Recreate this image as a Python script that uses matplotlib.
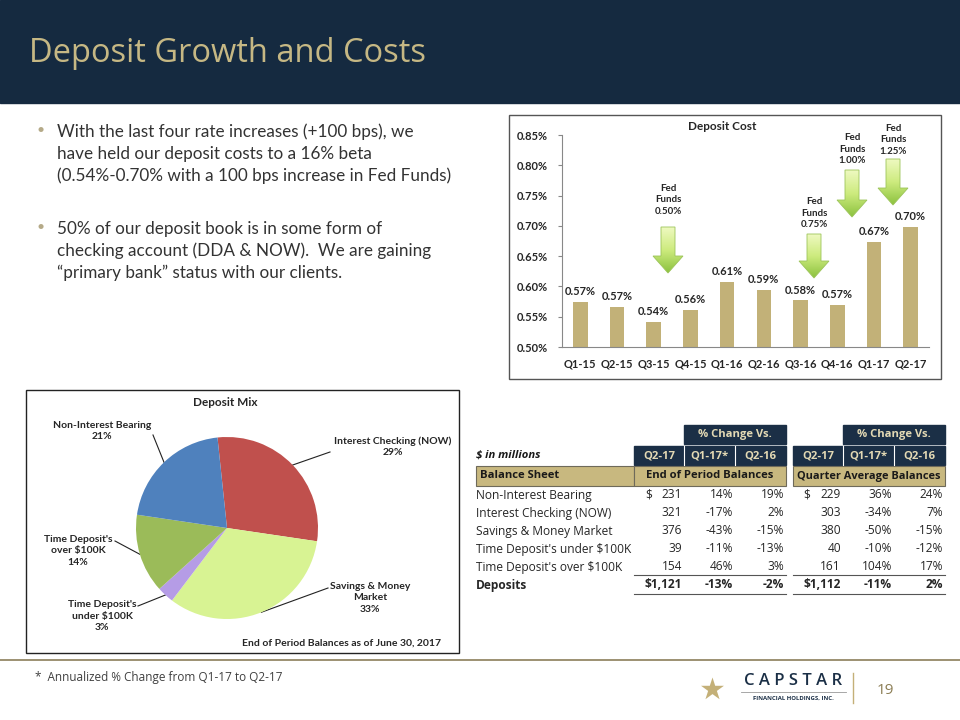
import matplotlib

matplotlib.use("Agg")
import numpy as np
import matplotlib.pyplot as plt
from matplotlib.patches import Rectangle, Polygon
from matplotlib.colors import LinearSegmentedColormap

plt.rcParams["font.family"] = ["Lato", "DejaVu Sans"]
plt.rcParams["text.parse_math"] = False

############### DATA ################
quarters = ["Q1-15", "Q2-15", "Q3-15", "Q4-15", "Q1-16",
            "Q2-16", "Q3-16", "Q4-16", "Q1-17", "Q2-17"]
deposit_cost = [0.574, 0.566, 0.542, 0.561, 0.607,
                0.594, 0.577, 0.570, 0.674, 0.698]
fed_funds = ["0.50%", "0.75%", "1.00%", "1.25%"]

mix_labels = ["Interest Checking (NOW)", "Savings & Money\nMarket",
              "Time Deposit's\nunder $100K", "Time Deposit's\nover $100K",
              "Non-Interest Bearing"]
mix_pct = [29, 33, 3, 14, 21]
mix_colors = ["#c0504d", "#d8f393", "#b59ce6", "#9bbb59", "#4f81bd"]

rows = ["Non-Interest Bearing", "Interest Checking (NOW)", "Savings & Money Market",
        "Time Deposit's under $100K", "Time Deposit's over $100K"]
eop_bal = [231, 321, 376, 39, 154]
eop_qoq = [14, -17, -43, -11, 46]
eop_yoy = [19, 2, -15, -13, 3]
avg_bal = [229, 303, 380, 40, 161]
avg_qoq = [36, -34, -50, -10, 104]
avg_yoy = [24, 7, -15, -12, 17]
eop_total = [1121, -13, -2]
avg_total = [1112, -11, 2]

bullets = [
    ["With the last four rate increases (+100 bps), we",
     "have held our deposit costs to a 16% beta",
     "(0.54%-0.70% with a 100 bps increase in Fed Funds)"],
    ["50% of our deposit book is in some form of",
     "checking account (DDA & NOW).  We are gaining",
     "\u201cprimary bank\u201d status with our clients."],
]

NAVY = "#152a40"
GOLD = "#c6b884"
BAR = "#c2b178"

fig = plt.figure(figsize=(9.6, 7.2), dpi=100)
bg = fig.add_axes([0, 0, 1, 1])
bg.set_xlim(0, 960)
bg.set_ylim(720, 0)
bg.set_autoscale_on(False)
bg.axis("off")

# header
bg.add_patch(Rectangle((0, 0), 960, 103, color=NAVY, zorder=0))
bg.text(29, 53, "Deposit Growth and Costs", color=GOLD, fontsize=23.5,
        family=["Open Sans", "DejaVu Sans"], va="center", ha="left")

# bullets
for y0, lines in zip([132, 229], bullets):
    bg.text(41, y0 - 2, "\u2022", color="#b5aa88", fontsize=10, va="center", ha="center")
    for k, line in enumerate(lines):
        bg.text(57, y0 + 22 * k, line, color="#333333", fontsize=12.3,
                va="center", ha="left")

############### BAR CHART ################
bg.add_patch(Rectangle((509, 115), 432, 264, fill=False, ec="#555555", lw=1))
bg.text(722, 126, "Deposit Cost", fontsize=8.5, fontweight="bold",
        ha="center", va="center", color="#262626")

ax = fig.add_axes([562 / 960, 1 - 347 / 720, 367 / 960, 212 / 720])
ax.patch.set_alpha(0)
x = np.arange(len(quarters))
bars = ax.bar(x, deposit_cost, width=0.4, color=BAR)
ax.set_xlim(-0.5, len(quarters) - 0.5)
ax.set_ylim(0.50, 0.85)
ax.set_yticks(np.arange(0.50, 0.851, 0.05))
ax.set_yticklabels([f"{v:.2f}%" for v in np.arange(0.50, 0.851, 0.05)])
ax.set_xticks(x)
ax.set_xticklabels(quarters)
for lbl in ax.get_xticklabels() + ax.get_yticklabels():
    lbl.set_fontweight("bold")
    lbl.set_fontsize(8)
    lbl.set_color("#262626")
ax.tick_params(axis="x", length=0, pad=8)
ax.tick_params(axis="y", length=3, pad=7, color="#888888")
for s in ["top", "right"]:
    ax.spines[s].set_visible(False)
for s in ["left", "bottom"]:
    ax.spines[s].set_color("#888888")
for xi, v in zip(x, deposit_cost):
    ax.text(xi, v + 0.008, f"{v:.2f}%", ha="center", va="bottom",
            fontsize=8, fontweight="bold", color="#262626")

# fed funds arrows (pixel layout)
arrow_cmap = LinearSegmentedColormap.from_list("g", ["#eef9c0", "#cdeb7e", "#8cc23f"])
arrows = [(668, 227, 273, 187), (814, 234, 278, 200),
          (852, 170, 217, 136), (893, 159, 205, 127)]
for (xc, ytop, ybot, ytxt), ff in zip(arrows, fed_funds):
    sw, hw, hh = 14, 30, 17
    verts = [(xc - sw / 2, ytop), (xc + sw / 2, ytop), (xc + sw / 2, ybot - hh),
             (xc + hw / 2, ybot - hh), (xc, ybot), (xc - hw / 2, ybot - hh),
             (xc - sw / 2, ybot - hh)]
    poly = Polygon(verts, closed=True, fc="none", ec="#9cc45a", lw=0.6, zorder=3)
    bg.add_patch(poly)
    grad = np.linspace(0, 1, 64).reshape(-1, 1)
    im = bg.imshow(grad, cmap=arrow_cmap, aspect="auto", origin="upper",
                   extent=(xc - hw / 2, xc + hw / 2, ybot, ytop), zorder=2)
    im.set_clip_path(poly)
    bg.text(xc, ytxt + 13, f"Fed\nFunds\n{ff}", ha="center", va="center", fontsize=7,
            fontweight="bold", color="#262626", linespacing=1.35)

############### PIE ################
bg.add_patch(Rectangle((26, 390), 433, 263, fill=False, ec="#222222", lw=1))
bg.text(225, 402, "Deposit Mix", fontsize=8.5, fontweight="bold",
        ha="center", va="center", color="#262626")
bg.text(342, 643, "End of Period Balances as of June 30, 2017", fontsize=7.5,
        fontweight="bold", ha="center", va="center", color="#262626")

cx, cy, r = 227, 528, 91
pax = fig.add_axes([(cx - r) / 960, 1 - (cy + r) / 720, 2 * r / 960, 2 * r / 720])
wedges, _ = pax.pie(mix_pct, colors=mix_colors, startangle=96, counterclock=False,
                    wedgeprops=dict(lw=0))
pax.set_xlim(-1, 1)
pax.set_ylim(-1, 1)

label_pos = [(393, 447), (370, 598), (102, 616), (78, 551), (102, 431)]
leader_start = [(330, 452), (328, 588), (138, 606), (115, 541), (153, 435)]
for w, name, pct, (tx, ty), (lx, ly) in zip(wedges, mix_labels, mix_pct,
                                            label_pos, leader_start):
    mid = np.deg2rad((w.theta1 + w.theta2) / 2)
    ex, ey = cx + r * np.cos(mid), cy - r * np.sin(mid)
    bg.plot([lx, ex], [ly, ey], color="#222222", lw=0.8, zorder=5)
    bg.text(tx, ty, f"{name}\n{pct}%", ha="center", va="center", fontsize=7.5,
            fontweight="bold", color="#262626", linespacing=1.3)

############### TABLE ################
TF = ["Open Sans", "DejaVu Sans"]
HDR_TXT = "#e3d9b4"
TBL_NAVY = "#1b2f46"
TBL_GOLD = "#c8b87f"
fs = 8.6
fsb = 8.1

for x0, x1 in [(684, 786), (843, 945)]:
    bg.add_patch(Rectangle((x0, 425), x1 - x0, 19, color=TBL_NAVY))
    bg.text((x0 + x1) / 2, 434.5, "% Change Vs.", ha="center", va="center",
            fontsize=fsb, color=HDR_TXT, family=TF, fontweight="bold")
for x0, x1 in [(634, 786), (793, 945)]:
    bg.add_patch(Rectangle((x0, 446), x1 - x0, 19, color=TBL_NAVY))
for xv in [684, 735, 843, 894]:
    bg.plot([xv, xv], [446, 465], color="white", lw=0.8)
col_centers = [659, 709.5, 760.5, 818, 868.5, 919.5]
for xc, h in zip(col_centers, ["Q2-17", "Q1-17*", "Q2-16"] * 2):
    bg.text(xc, 455.5, h, ha="center", va="center", fontsize=fsb,
            color=HDR_TXT, family=TF, fontweight="bold")
bg.text(476, 455.5, "$ in millions", ha="left", va="center", fontsize=fsb,
        fontstyle="italic", fontweight="bold", family=TF, color="#1a1a1a")

for x0, x1 in [(476, 634), (634, 786), (793, 945)]:
    bg.add_patch(Rectangle((x0, 466), x1 - x0, 20, fc=TBL_GOLD, ec="#6e6a5a", lw=0.8))
bg.text(480, 476, "Balance Sheet", ha="left", va="center", fontsize=fsb,
        fontweight="bold", family=TF, color="#1a1a1a")
bg.text(710, 476, "End of Period Balances", ha="center", va="center", fontsize=fsb,
        fontweight="bold", family=TF, color="#1a1a1a")
bg.text(869, 476, "Quarter Average Balances", ha="center", va="center", fontsize=7.9,
        fontweight="bold", family=TF, color="#1a1a1a")

col_right = [682, 733, 784, 841, 892, 943]
row_y = [495, 513, 531, 549, 567]
for i, (name, y) in enumerate(zip(rows, row_y)):
    vals = [f"{eop_bal[i]:,}", f"{eop_qoq[i]}%", f"{eop_yoy[i]}%",
            f"{avg_bal[i]:,}", f"{avg_qoq[i]}%", f"{avg_yoy[i]}%"]
    bg.text(476, y, name, ha="left", va="center", fontsize=fs, family=TF,
            color="#262626")
    for xr, v in zip(col_right, vals):
        bg.text(xr, y, v, ha="right", va="center", fontsize=fs, family=TF,
                color="#262626")
    if i == 0:
        bg.text(645, y, "$", ha="left", va="center", fontsize=fs, family=TF,
                color="#262626")
        bg.text(803, y, "$", ha="left", va="center", fontsize=fs, family=TF,
                color="#262626")

tot_vals = [f"${eop_total[0]:,}", f"{eop_total[1]}%", f"{eop_total[2]}%",
            f"${avg_total[0]:,}", f"{avg_total[1]}%", f"{avg_total[2]}%"]
bg.text(476, 585, "Deposits", ha="left", va="center", fontsize=fs, family=TF,
        fontweight="bold", color="#262626")
for xr, v in zip(col_right, tot_vals):
    bg.text(xr, 585, v, ha="right", va="center", fontsize=fs, family=TF,
            fontweight="bold", color="#262626")
for x0, x1 in [(634, 786), (793, 945)]:
    bg.plot([x0, x1], [575, 575], color="#555555", lw=0.8)
    bg.plot([x0, x1], [594, 594], color="#555555", lw=0.8)

############### FOOTER ################
bg.plot([0, 960], [660, 660], color="#8b7e5a", lw=1.2)
bg.text(35, 678, "*  Annualized % Change from Q1-17 to Q2-17", fontsize=8.5,
        family=TF, color="#404040", va="center")
bg.scatter([712], [689], marker="*", s=300, color="#c4b078", lw=0)
bg.text(793, 681, "C A P S T A R", ha="center", va="center", fontsize=12,
        color=TBL_NAVY, family=TF, fontweight="semibold")
bg.plot([741, 846], [692, 692], color="#999999", lw=0.6)
bg.text(793, 698, "FINANCIAL HOLDINGS, INC.", ha="center", va="center",
        fontsize=4.3, fontweight="bold", color=TBL_NAVY, family=TF)
bg.plot([853, 853], [673, 703], color="#c4b078", lw=1)
bg.text(885, 691, "19", ha="center", va="center", fontsize=11,
        color="#8c7e55", family=TF)

fig.savefig("out.png", dpi=100)
